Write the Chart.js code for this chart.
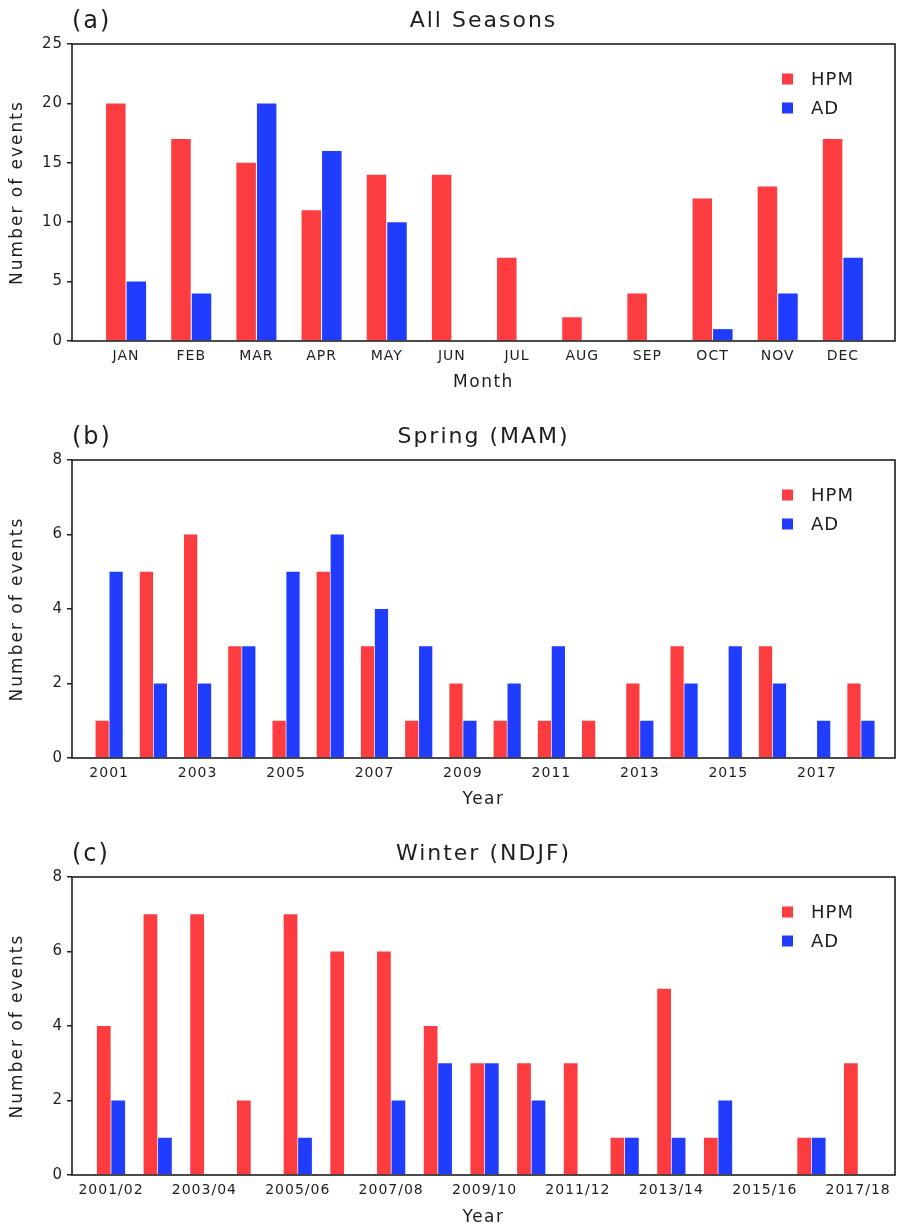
<!DOCTYPE html>
<html>
<head>
<meta charset="utf-8">
<script src="https://cdn.jsdelivr.net/npm/chart.js@4.4.1/dist/chart.umd.min.js"></script>
<style>
  html, body { margin: 0; padding: 0; background: #fff; }
  .panel { position: absolute; left: 0; width: 899px; height: 397px; }
</style>
</head>
<body>
<div class="panel" style="top:0"><canvas id="chart-a"></canvas></div>
<div class="panel" style="top:416px"><canvas id="chart-b"></canvas></div>
<div class="panel" style="top:833px"><canvas id="chart-c"></canvas></div>
<script>
// ---------- data ----------
const months = ['JAN', 'FEB', 'MAR', 'APR', 'MAY', 'JUN', 'JUL', 'AUG', 'SEP', 'OCT', 'NOV', 'DEC'];
const monthHPM = [20, 17, 15, 11, 14, 14, 7, 2, 4, 12, 13, 17];
const monthAD = [5, 4, 20, 16, 10, 0, 0, 0, 0, 1, 4, 7];

const springYears = ['2001', '2002', '2003', '2004', '2005', '2006', '2007', '2008', '2009',
  '2010', '2011', '2012', '2013', '2014', '2015', '2016', '2017', '2018'];
const springHPM = [1, 5, 6, 3, 1, 5, 3, 1, 2, 1, 1, 1, 2, 3, 0, 3, 0, 2];
const springAD = [5, 2, 2, 3, 5, 6, 4, 3, 1, 2, 3, 0, 1, 2, 3, 2, 1, 1];

const winterYears = ['2001/02', '2002/03', '2003/04', '2004/05', '2005/06', '2006/07', '2007/08',
  '2008/09', '2009/10', '2010/11', '2011/12', '2012/13', '2013/14', '2014/15', '2015/16',
  '2016/17', '2017/18'];
const winterHPM = [4, 7, 7, 2, 7, 6, 6, 4, 3, 3, 3, 1, 5, 1, 0, 1, 3];
const winterAD = [2, 1, 0, 0, 1, 0, 2, 3, 3, 2, 0, 1, 1, 2, 0, 1, 0];

// which categories get a tick label
const monthTickIdx = [0, 1, 2, 3, 4, 5, 6, 7, 8, 9, 10, 11];
const springTickIdx = [0, 2, 4, 6, 8, 10, 12, 14, 16];
const winterTickIdx = [0, 2, 4, 6, 8, 10, 12, 14, 16];

const HPM_COLOR = '#fd3c40';
const AD_COLOR = '#1f3cff';
const INK = '#1e1e1e';

Chart.defaults.font.family = "'DejaVu Sans', sans-serif";
Chart.defaults.color = INK;

// ---------- decorations: frame, titles, legend ----------
const panelDecor = {
  id: 'panelDecor',
  beforeDraw(chart) {
    // the original font is wide; space out tick labels a little
    chart.ctx.letterSpacing = '1px';
  },
  afterDraw(chart, args, opts) {
    const { ctx, chartArea: a } = chart;
    const cx = (a.left + a.right) / 2;
    ctx.save();

    ctx.strokeStyle = INK;
    ctx.lineWidth = 1.6;
    ctx.strokeRect(a.left, a.top, a.right - a.left, a.bottom - a.top);

    ctx.fillStyle = INK;
    ctx.textBaseline = 'middle';

    ctx.letterSpacing = '2px';
    ctx.font = "24px 'DejaVu Sans'";
    ctx.textAlign = 'left';
    ctx.fillText(opts.tag, a.left, 22);

    ctx.font = "22px 'DejaVu Sans'";
    ctx.textAlign = 'center';
    ctx.fillText(opts.title, cx, 21);

    ctx.letterSpacing = '1.5px';
    ctx.font = "17px 'DejaVu Sans'";
    ctx.fillText(opts.xTitle, cx, opts.xTitleY);

    // legend
    ctx.letterSpacing = '1px';
    ctx.font = "18px 'DejaVu Sans'";
    ctx.textAlign = 'left';
    chart.data.datasets.forEach((ds, i) => {
      const y = 79 + i * 29;
      ctx.fillStyle = ds.backgroundColor;
      ctx.fillRect(a.right - 113, y - 5.5, 11, 11);
      ctx.fillStyle = INK;
      ctx.fillText(ds.label, a.right - 84, y + 1);
    });

    // y title
    ctx.letterSpacing = '2px';
    ctx.font = "17px 'DejaVu Sans'";
    ctx.textAlign = 'center';
    ctx.translate(18, (a.top + a.bottom) / 2);
    ctx.rotate(-Math.PI / 2);
    ctx.fillText('Number of events', 0, 0);

    ctx.restore();
    ctx.letterSpacing = '0px';
  }
};

function toPoints(values) {
  return values.map((v, i) => ({ x: i, y: v }));
}

function makePanel(id, cfg) {
  const ctx = document.getElementById(id).getContext('2d');
  return new Chart(ctx, {
    type: 'bar',
    data: {
      datasets: [
        {
          label: 'HPM',
          data: toPoints(cfg.hpm),
          backgroundColor: HPM_COLOR,
          borderWidth: 0,
          categoryPercentage: cfg.catPct,
          barPercentage: 0.95
        },
        {
          label: 'AD',
          data: toPoints(cfg.ad),
          backgroundColor: AD_COLOR,
          borderWidth: 0,
          categoryPercentage: cfg.catPct,
          barPercentage: 0.95
        }
      ]
    },
    options: {
      responsive: true,
      maintainAspectRatio: false,
      animation: false,
      layout: { padding: { top: 44, right: 4, left: 0, bottom: 0 } },
      plugins: {
        legend: { display: false },
        tooltip: { enabled: false },
        panelDecor: { tag: cfg.tag, title: cfg.title, xTitle: cfg.xTitle, xTitleY: cfg.xTitleY }
      },
      scales: {
        x: {
          type: 'linear',
          offset: false,
          min: cfg.xMin,
          max: cfg.xMax,
          grid: { display: false, drawTicks: false },
          border: { display: false },
          afterBuildTicks: axis => {
            axis.ticks = cfg.tickIdx.map(v => ({ value: v }));
          },
          afterFit: axis => { axis.height = cfg.xAxisH; },
          ticks: {
            autoSkip: false,
            maxRotation: 0,
            padding: 7,
            font: { size: 14 },
            callback: value => cfg.labels[value]
          }
        },
        y: {
          min: 0,
          max: cfg.yMax,
          grid: { drawOnChartArea: false, drawTicks: true, tickLength: 5, color: INK, lineWidth: 1.5 },
          border: { display: false },
          afterFit: axis => { axis.width = 72; },
          ticks: {
            stepSize: cfg.yStep,
            padding: 4,
            font: { size: 15 }
          }
        }
      }
    },
    plugins: [panelDecor]
  });
}

makePanel('chart-a', {
  tag: '(a)', title: 'All Seasons', xTitle: 'Month', xTitleY: 383,
  labels: months, hpm: monthHPM, ad: monthAD, tickIdx: monthTickIdx,
  xMin: -0.83, xMax: 11.8, catPct: 0.63, yMax: 25, yStep: 5, xAxisH: 56
});

makePanel('chart-b', {
  tag: '(b)', title: 'Spring (MAM)', xTitle: 'Year', xTitleY: 384,
  labels: springYears, hpm: springHPM, ad: springAD, tickIdx: springTickIdx,
  xMin: -0.84, xMax: 17.77, catPct: 0.63, yMax: 8, yStep: 2, xAxisH: 55
});

makePanel('chart-c', {
  tag: '(c)', title: 'Winter (NDJF)', xTitle: 'Year', xTitleY: 385,
  labels: winterYears, hpm: winterHPM, ad: winterAD, tickIdx: winterTickIdx,
  xMin: -0.835, xMax: 16.79, catPct: 0.62, yMax: 8, yStep: 2, xAxisH: 55
});
</script>
</body>
</html>
